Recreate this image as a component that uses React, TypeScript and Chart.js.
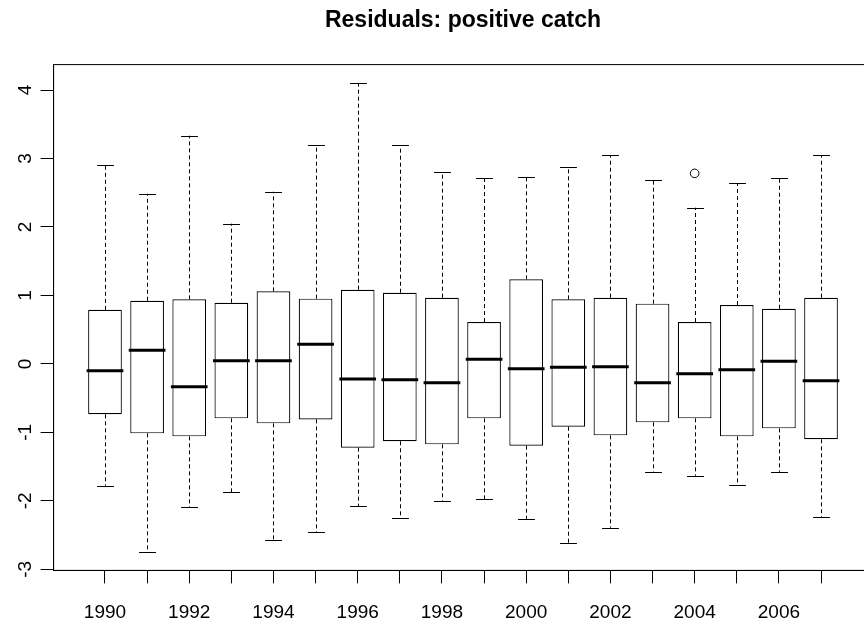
import React, { useEffect, useRef } from "react";
import { Chart, registerables } from "chart.js";

Chart.register(...registerables);

// ---- Data ----
const years = [1990, 1991, 1992, 1993, 1994, 1995, 1996, 1997, 1998, 1999, 2000, 2001, 2002, 2003, 2004, 2005, 2006, 2007];
const upperWhisker = [2.905, 2.486, 3.333, 2.048, 2.515, 3.197, 4.098, 3.197, 2.796, 2.71, 2.73, 2.876, 3.051, 2.681, 2.282, 2.637, 2.71, 3.051];
const q3 = [0.79, 0.923, 0.943, 0.894, 1.06, 0.953, 1.084, 1.04, 0.967, 0.612, 1.235, 0.943, 0.967, 0.88, 0.612, 0.86, 0.806, 0.967];
const medians = [-0.099, 0.198, -0.333, 0.047, 0.047, 0.286, -0.221, -0.23, -0.274, 0.067, -0.07, -0.05, -0.041, -0.274, -0.143, -0.085, 0.038, -0.245];
const q1 = [-0.736, -1.014, -1.058, -0.795, -0.868, -0.81, -1.223, -1.13, -1.175, -0.795, -1.194, -0.917, -1.043, -0.853, -0.795, -1.058, -0.941, -1.101];
const lowerWhisker = [-1.779, -2.742, -2.095, -1.871, -2.567, -2.46, -2.08, -2.255, -2.002, -1.978, -2.27, -2.611, -2.392, -1.574, -1.633, -1.764, -1.574, -2.24];
const outlierYears = [2004];
const outlierValues = [2.783];
const yTicks = [-3, -2, -1, 0, 1, 2, 3, 4];
const titleText = "Residuals: positive catch";

// R-style axis extents (4% extension of the data range)
const dataMin = Math.min(...lowerWhisker, ...outlierValues);
const dataMax = Math.max(...upperWhisker, ...outlierValues);
const yMin = dataMin - 0.04 * (dataMax - dataMin);
const yMax = dataMax + 0.04 * (dataMax - dataMin);
const xMin = 0.5 - 0.04 * years.length;
const xMax = years.length + 0.5 + 0.04 * years.length;

const FONT = "'Liberation Sans', Arial, Helvetica, sans-serif";

const boxPlotPlugin = {
  id: "boxWhiskers",
  afterDatasetsDraw(chart: any) {
    const xs = chart.scales.x;
    const ys = chart.scales.y;
    const ctx = chart.ctx;
    const meta = chart.getDatasetMeta(0);
    const area = chart.chartArea;
    ctx.save();
    ctx.beginPath();
    ctx.rect(area.left, area.top, area.right - area.left, area.bottom - area.top);
    ctx.clip();
    ctx.strokeStyle = "#000";
    years.forEach((_, i) => {
      const bar = meta.data[i];
      const half = bar.width / 2;
      const cx = Math.round(xs.getPixelForValue(i + 1)) + 0.5;
      const yUp = ys.getPixelForValue(upperWhisker[i]);
      const yQ3 = ys.getPixelForValue(q3[i]);
      const yQ1 = ys.getPixelForValue(q1[i]);
      const yLo = ys.getPixelForValue(lowerWhisker[i]);
      const yMed = ys.getPixelForValue(medians[i]);
      // dashed whiskers
      ctx.lineWidth = 1;
      ctx.setLineDash([4, 3]);
      ctx.beginPath();
      ctx.moveTo(cx, yQ3);
      ctx.lineTo(cx, yUp);
      ctx.moveTo(cx, yQ1);
      ctx.lineTo(cx, yLo);
      ctx.stroke();
      ctx.setLineDash([]);
      // staples
      ctx.beginPath();
      ctx.moveTo(cx - half / 2, Math.round(yUp) + 0.5);
      ctx.lineTo(cx + half / 2, Math.round(yUp) + 0.5);
      ctx.moveTo(cx - half / 2, Math.round(yLo) + 0.5);
      ctx.lineTo(cx + half / 2, Math.round(yLo) + 0.5);
      ctx.stroke();
      // median
      ctx.lineWidth = 3;
      ctx.lineCap = "square";
      ctx.beginPath();
      ctx.moveTo(bar.x - half, yMed);
      ctx.lineTo(bar.x + half, yMed);
      ctx.stroke();
      ctx.lineCap = "butt";
    });
    ctx.restore();
  },
  afterDraw(chart: any) {
    const a = chart.chartArea;
    const ctx = chart.ctx;
    ctx.save();
    ctx.strokeStyle = "#000";
    ctx.lineWidth = 1;
    ctx.strokeRect(a.left, a.top, a.right - a.left, a.bottom - a.top);
    ctx.restore();
  },
};

export default function App() {
  const canvasRef = useRef<HTMLCanvasElement | null>(null);

  useEffect(() => {
    const canvas = canvasRef.current;
    if (!canvas) return;
    const chart = new Chart(canvas, {
      type: "bar",
      data: {
        datasets: [
          {
            type: "bar",
            data: years.map((_, i) => ({ x: i + 1, y: [q1[i], q3[i]] })) as any,
            backgroundColor: "#ffffff",
            borderColor: "#000000",
            borderWidth: 1.2,
            borderSkipped: false,
            barPercentage: 0.8,
            categoryPercentage: 1,
          } as any,
          {
            type: "scatter",
            data: outlierYears.map((yr, j) => ({ x: years.indexOf(yr) + 1, y: outlierValues[j] })),
            pointStyle: "circle",
            pointRadius: 4.3,
            pointBorderWidth: 1,
            borderColor: "#000000",
            backgroundColor: "rgba(0,0,0,0)",
          } as any,
        ],
      },
      options: {
        animation: false,
        responsive: false,
        layout: { padding: 0 },
        plugins: {
          legend: { display: false },
          tooltip: { enabled: false },
          title: {
            display: true,
            text: titleText,
            color: "#000",
            font: { family: FONT, size: 23, weight: "bold" },
            padding: { top: 7, bottom: 30 },
          },
        },
        scales: {
          x: {
            type: "linear",
            min: xMin,
            max: xMax,
            offset: false,
            afterBuildTicks: (s: any) => {
              s.ticks = years.map((_, i) => ({ value: i + 1 }));
            },
            afterFit: (s: any) => {
              s.height = 56.6;
            },
            ticks: {
              autoSkip: false,
              maxRotation: 0,
              minRotation: 0,
              padding: 18,
              color: "#000",
              font: { family: FONT, size: 19 },
              callback: (_v: any, index: number) => (index % 2 === 0 ? String(years[index]) : ""),
            },
            grid: { offset: false, drawOnChartArea: false, drawTicks: true, tickLength: 13, color: "#000" },
            border: { display: true, color: "#000" },
          },
          y: {
            type: "linear",
            position: "left",
            min: yMin,
            max: yMax,
            afterBuildTicks: (s: any) => {
              s.ticks = yTicks.map((v) => ({ value: v }));
            },
            afterFit: (s: any) => {
              s.width = 53.6;
            },
            ticks: {
              minRotation: 90,
              maxRotation: 90,
              crossAlign: "center",
              padding: 6,
              color: "#000",
              font: { family: FONT, size: 19 },
              callback: (v: any) => String(v),
            },
            grid: { drawOnChartArea: false, drawTicks: true, tickLength: 13, color: "#000" },
            border: { display: true, color: "#000" },
          },
          y2: {
            type: "linear",
            position: "right",
            display: true,
            afterFit: (s: any) => {
              s.width = 53.6;
            },
            ticks: { display: false },
            grid: { display: false },
            border: { display: false },
          },
        },
      } as any,
      plugins: [boxPlotPlugin],
    });
    return () => chart.destroy();
  }, []);

  return (
    <div
      style={{
        position: "absolute",
        left: 0,
        top: 0,
        width: 864,
        height: 627,
        overflow: "hidden",
        background: "#fff",
      }}
    >
      <canvas ref={canvasRef} width={926} height={627} style={{ display: "block" }} />
    </div>
  );
}
